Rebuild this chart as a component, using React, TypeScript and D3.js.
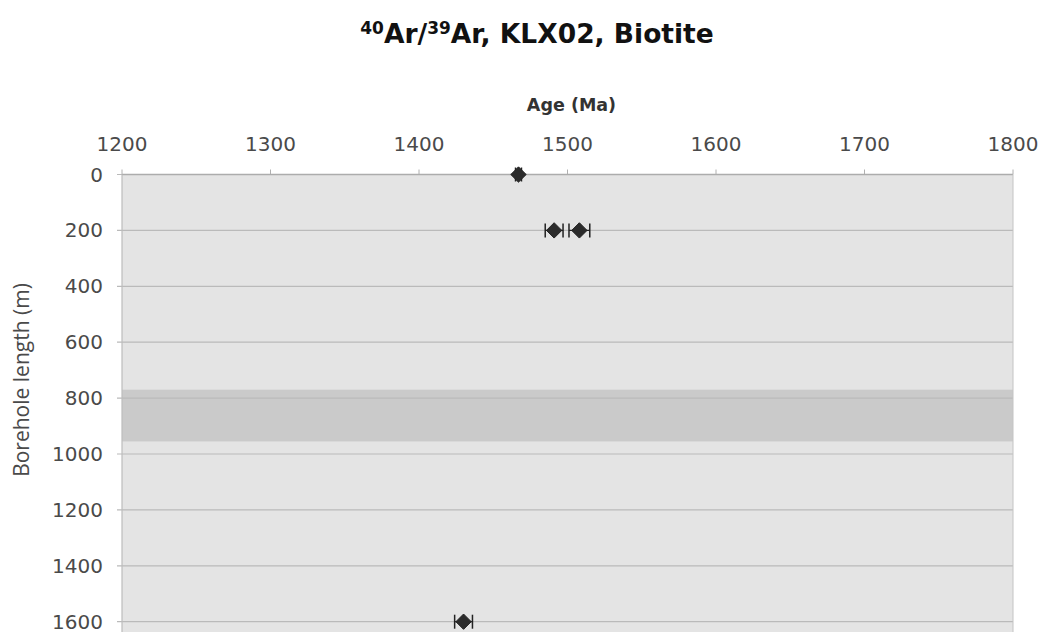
import React from "react";
import * as d3 from "d3";

const ageTicks = [1200, 1300, 1400, 1500, 1600, 1700, 1800];
const depthTicks = [0, 200, 400, 600, 800, 1000, 1200, 1400, 1600];
const ages = [1467, 1491, 1508, 1430];
const depths = [0, 200, 200, 1600];
const errors = [2, 6, 7, 6];
const band = [770, 955];

const W = 1042;
const H = 632;

export default function App() {
  const x = d3.scaleLinear().domain([1200, 1800]).range([122, 1013]);
  const y = d3.scaleLinear().domain([0, 2000]).range([174.5, 733.5]);
  const diamond = d3.symbol().type(d3.symbolDiamond2).size(150)();
  const font = "'DejaVu Sans', Verdana, sans-serif";
  return (
    <svg width={W} height={H} style={{ position: "absolute", left: 0, top: 0, background: "#fff" }}>
      <text x={537} y={43} textAnchor="middle" fontFamily={font} fontWeight="bold" fontSize={26.5} fill="#111">
        <tspan fontSize={17} dy={-9}>40</tspan>
        <tspan dy={9}>Ar/</tspan>
        <tspan fontSize={17} dy={-9}>39</tspan>
        <tspan dy={9}>Ar, KLX02, Biotite</tspan>
      </text>
      <text x={(x(1200) + x(1800)) / 2 + 4} y={111} textAnchor="middle" fontFamily={font} fontWeight="bold" fontSize={17.5} fill="#333">
        Age (Ma)
      </text>
      <rect x={x(1200)} y={y(0)} width={x(1800) - x(1200)} height={y(2000) - y(0)} fill="#e4e4e4" />
      <rect x={x(1200)} y={y(band[0])} width={x(1800) - x(1200)} height={y(band[1]) - y(band[0])} fill="#cacaca" />
      {depthTicks.map((d) => (
        <g key={d}>
          <line x1={x(1200) - 5} x2={x(1800)} y1={y(d)} y2={y(d)} stroke="#bababa" strokeWidth={1.2} />
          <text x={103} y={y(d) + 7} textAnchor="end" fontFamily={font} fontSize={20} fill="#4a4a4a">
            {d}
          </text>
        </g>
      ))}
      {ageTicks.map((a) => (
        <g key={a}>
          <line x1={x(a)} x2={x(a)} y1={y(0) - 5} y2={y(0)} stroke="#b0b0b0" />
          <text x={x(a)} y={151} textAnchor="middle" fontFamily={font} fontSize={20} fill="#4a4a4a">
            {a}
          </text>
        </g>
      ))}
      <line x1={x(1200)} x2={x(1800)} y1={y(0)} y2={y(0)} stroke="#acacac" strokeWidth={1.5} />
      <line x1={x(1200)} x2={x(1200)} y1={y(0)} y2={y(2000)} stroke="#bcbcbc" strokeWidth={1.2} />
      <line x1={x(1800)} x2={x(1800)} y1={y(0)} y2={y(2000)} stroke="#c4c4c4" strokeWidth={1} />
      <text transform={`translate(29,${380}) rotate(-90)`} textAnchor="middle" fontFamily="'Open Sans', sans-serif" fontSize={21} fill="#4a4a4a">
        Borehole length (m)
      </text>
      {ages.map((a, i) => (
        <g key={i}>
          <line x1={x(a - errors[i])} x2={x(a + errors[i])} y1={y(depths[i])} y2={y(depths[i])} stroke="#222" strokeWidth={1.2} />
          <line x1={x(a - errors[i])} x2={x(a - errors[i])} y1={y(depths[i]) - 7} y2={y(depths[i]) + 7} stroke="#222" strokeWidth={1.5} />
          <line x1={x(a + errors[i])} x2={x(a + errors[i])} y1={y(depths[i]) - 7} y2={y(depths[i]) + 7} stroke="#222" strokeWidth={1.5} />
          <path d={diamond || ""} transform={`translate(${x(a)},${y(depths[i])})`} fill="#2b2b2b" stroke="#222" strokeWidth={1} />
        </g>
      ))}
    </svg>
  );
}
